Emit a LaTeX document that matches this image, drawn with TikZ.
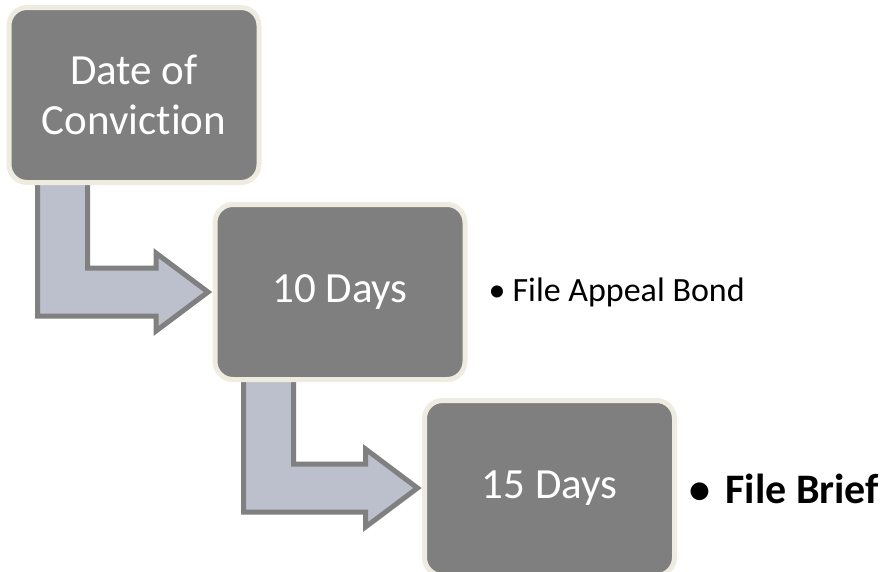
\documentclass[tikz,border=0pt]{standalone}
\usepackage{fontspec}
\setmainfont{Carlito}[Ligatures = NoCommon]
\usepackage{xcolor}
\usepackage{tikz}
\usetikzlibrary{positioning, calc, backgrounds}

\definecolor{boxgray}{RGB}{127,127,127}
\definecolor{boxrim}{RGB}{238,236,225}
\definecolor{arrowfill}{RGB}{188,192,204}
\definecolor{arrowline}{RGB}{128,128,128}

% bent block arrow: down out of #1, then right into #2
\newcommand{\stepArrow}[2]{%
  \path ($(#1.center)+(-96.5,80)$) coordinate (#1-s)
        ($(#2.west)+(-7,0)$) coordinate (#2-t);
  \draw[bentarrow] (#2-t) -- ++(-52,39) -- ++(0,-15) -| (#1-s)
    -- ++(50,0) |- ($(#2-t)+(-52,-24)$) -- ++(0,-15) -- cycle;
}

\begin{document}
\begin{tikzpicture}[ x = 1pt, y = -1pt
                     , stepbox/.style = { rectangle
                                        , rounded corners = 18pt
                                        , draw = boxrim
                                        , line width = 5pt
                                        , fill = boxgray
                                        , text = white
                                        , align = center
                                        , minimum width = 250pt
                                        , minimum height = 175pt
                                        , outer sep = 0pt
                                        , font = \fontsize{43}{50}\selectfont }
                     , bentarrow/.style = { draw = arrowline
                                          , fill = arrowfill
                                          , line width = 5pt
                                          , line join = miter }
                     , note/.style = { inner sep = 0pt, anchor = base west }
                     ]

  \useasboundingbox (0,0) rectangle (885,571);
  \clip (0,0) rectangle (885,571);

  \node (date) [stepbox] at (134,95) {Date of\\Convict\kern0pt ion};
  \node (ten) [stepbox, below right = 22pt and -44pt of date] {10 Days};
  \node (fifteen) [stepbox, below right = 21pt and -40.5pt of ten]
  {\raisebox{6pt}{15 Days}};

  \begin{scope}[on background layer]
    \stepArrow{date}{ten}
    \stepArrow{ten}{fifteen}
  \end{scope}

  \node (bond) [note, font = \fontsize{34}{40}\selectfont]
  at (488.5,301.5) {•\hspace{7pt}File Appeal Bond};
  \node (brief) [note, font = \fontsize{42}{48}\selectfont\bfseries]
  at (689.5,503) {•\hspace{15pt}File Brief};

\end{tikzpicture}
\end{document}
